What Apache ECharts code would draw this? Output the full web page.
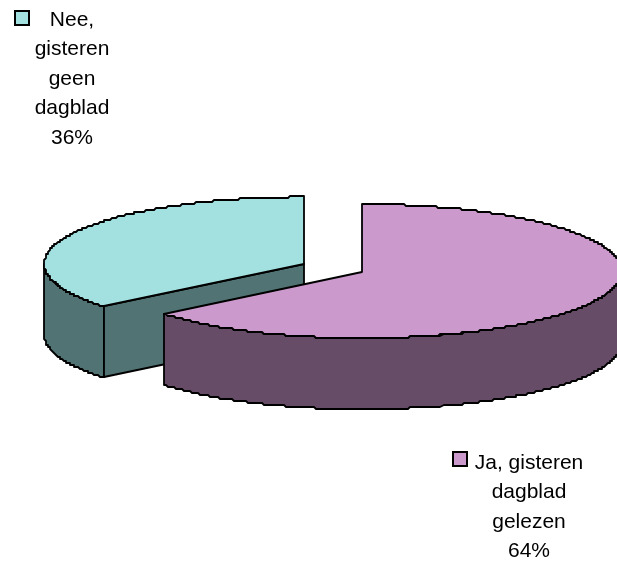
<!DOCTYPE html>
<html>
<head>
<meta charset="utf-8">
<title>Dagblad gisteren</title>
<script src="https://cdn.jsdelivr.net/npm/echarts@6/dist/echarts.min.js"></script>
<style>
html,body{margin:0;padding:0;background:#fff;}
#main{width:617px;height:562px;}
</style>
</head>
<body>
<div id="main"></div>
<script>
// volgorde: Nee eerst, zodat Ja er overheen getekend wordt
var categories = ["Nee, gisteren geen dagblad", "Ja, gisteren dagblad gelezen"];
var values = [36, 64];
var labelLines = [["Nee,", "gisteren", "geen", "dagblad"], ["Ja, gisteren", "dagblad", "gelezen"]];
var topColors = ["#A3E0E0", "#CC99CC"];
var wallColors = ["#527373", "#664C66"];

// afmetingen van de taart
var cx = 333, cy = 267.5, rx = 259, ry = 67, depth = 71, explode = 0.127;
var labelPos = [{x: 72, y: 5, keyX: 15, keyY: 11}, {x: 529, y: 448, keyX: 453, keyY: 452}];

var total = values[0] + values[1];

function snap(v) {
	return Math.round(v / 2) * 2;
}

function renderSlice(params, api) {
	var i = params.dataIndex;
	// met de klok mee vanaf 12 uur, Ja begint bovenaan
	var end = 360, start;
	for (var k = 0; k < i; k++) {
		end -= values[k] / total * 360;
	}
	start = end - values[i] / total * 360;
	var mid = (start + end) / 2 * Math.PI / 180;
	var ox = cx + explode * rx * Math.sin(mid);
	var oy = cy - explode * ry * Math.cos(mid);

	function pt(deg, down) {
		var a = deg * Math.PI / 180;
		// kartelige rand zoals in het origineel
		var x = ox + rx * Math.sin(a);
		var y = oy - ry * Math.cos(a);
		return [snap(x), snap(y) + (down ? depth : 0)];
	}
	function arc(from, to, down) {
		var pts = [], n = Math.max(1, Math.round(Math.abs(to - from) * 2));
		for (var j = 0; j <= n; j++) {
			pts.push(pt(from + (to - from) * j / n, down));
		}
		return pts;
	}
	var children = [];
	function poly(points, fill) {
		children.push({
			type: "polygon",
			shape: {points: points},
			style: {fill: fill, stroke: "#000", lineWidth: 1.8, lineJoin: "round"}
		});
	}
	var apex = [snap(ox), snap(oy)];
	var apexDown = [apex[0], apex[1] + depth];

	// voorkant: alleen het deel van de rand dat naar de kijker wijst
	var wallFrom = Math.max(start, 90), wallTo = Math.min(end, 270);
	if (wallTo > wallFrom) {
		poly(arc(wallFrom, wallTo, false).concat(arc(wallTo, wallFrom, true)), wallColors[i]);
	}
	// snijvlak naar het midden
	if (start > 90 && start < 270) {
		poly([pt(start), apex, apexDown, pt(start, true)], wallColors[i]);
	}
	// bovenkant
	poly([apex].concat(arc(start, end, false)), topColors[i]);

	// legenda en label
	var lp = labelPos[i];
	children.push({
		type: "rect",
		shape: {x: lp.keyX, y: lp.keyY, width: 14, height: 14},
		style: {fill: topColors[i], stroke: "#000", lineWidth: 2}
	});
	children.push({
		type: "text",
		x: lp.x,
		y: lp.y,
		style: {
			text: labelLines[i].concat([values[i] + "%"]).join("\n"),
			fill: "#000",
			font: "21px 'Liberation Sans', Arial, sans-serif",
			lineHeight: 29.5,
			align: "center",
			verticalAlign: "top"
		}
	});
	return {type: "group", children: children};
}

var myChart = echarts.init(document.getElementById("main"));
var option = {
	animation: false,
	backgroundColor: "#fff",
	series: [{
		type: "custom",
		coordinateSystem: "none",
		renderItem: renderSlice,
		data: categories.map(function (c, i) { return {name: c, value: values[i]}; })
	}]
};
myChart.setOption(option);
</script>
</body>
</html>
